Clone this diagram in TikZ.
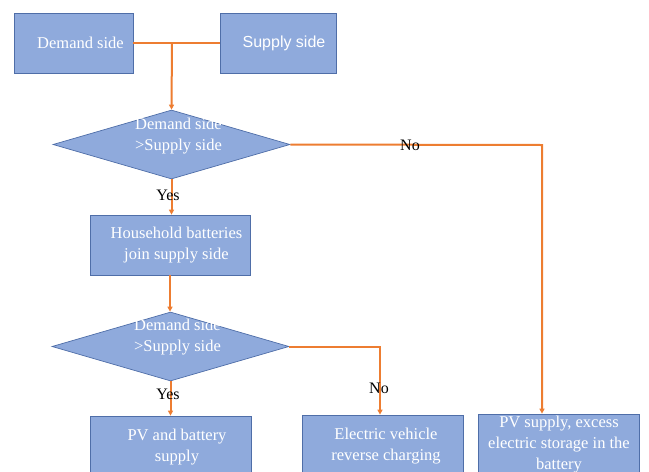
\documentclass[tikz,border=0pt]{standalone}
\usepackage{fontspec}
\setmainfont{Liberation Serif}
\newfontfamily\supfont{Liberation Sans}
\usetikzlibrary{shapes.geometric,arrows.meta}
\definecolor{boxfill}{HTML}{8FAADC}
\definecolor{boxline}{HTML}{4F6EA8}
\definecolor{flow}{HTML}{ED7D31}
\tikzset{
  x=1pt,y=-1pt,
  box/.style={draw=boxline,line width=0.7pt,fill=boxfill,inner sep=0pt},
  txt/.style={text=white,align=center,font=\fontsize{16.5}{21}\selectfont,inner sep=0pt},
  dia/.style={draw=boxline,line width=0.7pt,fill=boxfill,shape=diamond,inner sep=0pt,
    minimum width=237pt,minimum height=69pt},
  lab/.style={text=black,font=\fontsize{16}{18}\selectfont,inner sep=0pt},
  conn/.style={draw=flow,line width=2pt},
  arr/.style={conn,-{Triangle[length=5pt,width=5pt]}}
}
\begin{document}
\begin{tikzpicture}
\useasboundingbox (0,0) rectangle (649,472);
% top boxes
\node[box,minimum width=119pt,minimum height=60pt] (dem) at (73.5,43) {};
\node[txt] (demt) at (80.5,43) {Demand side};
\node[box,minimum width=116pt,minimum height=60pt] (sup) at (278,43) {};
\node[txt,font=\supfont\fontsize{16}{21}\selectfont] (supt) at (284,43) {Supply side};
% diamonds
\node[dia] (d1) at (171.5,144.5) {};
\node[txt] (d1t) at (178.5,136) {Demand side\\>Supply side};
\node[dia] (d2) at (170.5,346.5) {};
\node[txt] (d2t) at (177.5,337) {Demand side\\>Supply side};
% middle box
\node[box,minimum width=160pt,minimum height=60pt] (hb) at (170,245) {};
\node[txt] (hbt) at (176.5,245) {Household batteries\\join supply side};
% bottom boxes
\node[box,minimum width=161pt,minimum height=62pt] (pvb) at (170.5,447) {};
\node[txt] (pvbt) at (177,447) {PV and battery\\supply};
\node[box,minimum width=161pt,minimum height=64pt] (ev) at (382.5,447) {};
\node[txt] (evt) at (386,446) {Electric vehicle\\reverse charging};
\node[box,minimum width=161pt,minimum height=62pt] (pvs) at (558.5,445) {};
\node[txt] (pvst) at (559,445) {PV supply, excess\\electric storage in the\\battery};
% connectors
\coordinate (j) at (172,43);
\coordinate (c1) at (542,145);
\coordinate (c2) at (380,346.5);
\draw[conn] (dem.east) -- (sup.west);
\draw[arr] (j) -- (d1.north);
\draw[arr] (d1.south) -- (d1.south |- hb.north);
\draw[arr] (hb.south) -- (hb.south |- d2.north);
\draw[arr] (d2.south) -- (d2.south |- pvb.north);
\draw[arr] (d2.east) -- (c2) -- (c2 |- ev.north);
\draw[arr] (d1.east) -- (c1) -- (c1 |- pvs.north);
% labels
\node[lab] (y1) at (168,195) {Yes};
\node[lab] (y2) at (168,394) {Yes};
\node[lab] (n1) at (410,145) {No};
\node[lab] (n2) at (379,388) {No};
\end{tikzpicture}
\end{document}
